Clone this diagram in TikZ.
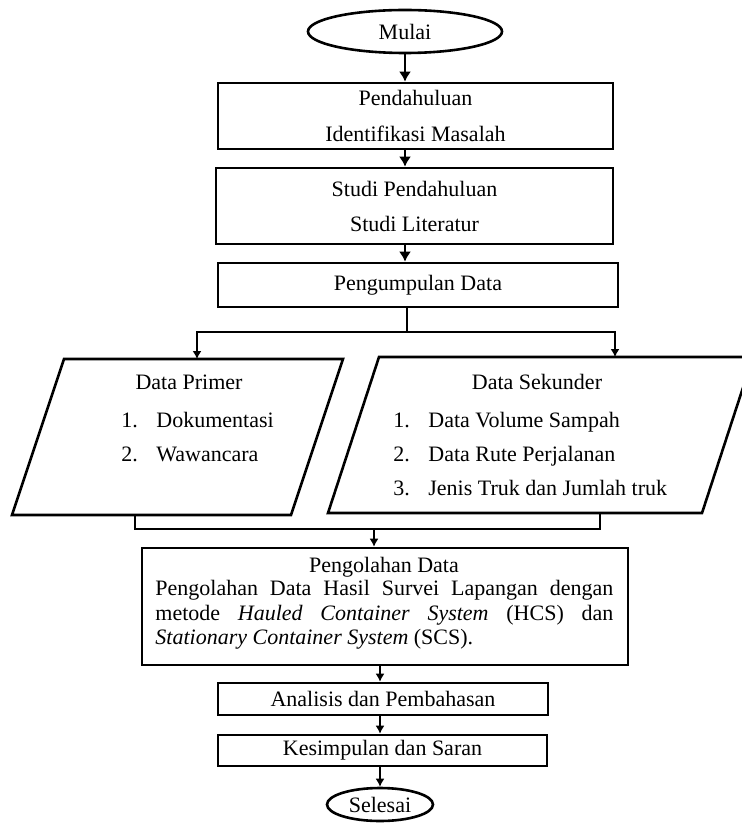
\documentclass[tikz,border=0pt]{standalone}
\usepackage{fontspec}
\setmainfont{Liberation Serif}
\usetikzlibrary{shapes.geometric,arrows.meta}
\newcommand{\butir}[2]{\makebox[17.5pt][l]{#1}#2}
\tikzset{
  proses/.style={draw, line width=1.3pt, inner sep=0pt},
  terminal/.style={draw, ellipse, line width=1.3pt, inner sep=0pt},
  teks/.style={inner sep=0pt, anchor=base},
  teksbaris/.style={inner sep=0pt, anchor=base west},
  panah/.style={-{Latex[length=5pt,width=6pt]}, line width=1pt},
  panahtipis/.style={-{Latex[length=4pt,width=4.5pt]}, line width=0.7pt},
  garis/.style={line width=0.6pt},
}
\begin{document}
\begin{tikzpicture}[x=0.5pt,y=-0.5pt,font=\fontsize{11}{13}\selectfont]
\useasboundingbox (0,0) rectangle (742,823);
% awal dan tahap pendahuluan
\node [terminal, minimum width=97pt, minimum height=21.5pt] (mulai) at (405,31.5) {Mulai};
\node [proses, minimum width=197.5pt, minimum height=33pt, align=center, font=\fontsize{11}{18}\selectfont] (pendahuluan) at (415.5,116) {Pendahuluan\\Identifikasi Masalah};
\node [proses, minimum width=198.5pt, minimum height=38pt, align=center, font=\fontsize{11}{17.5}\selectfont] (studi) at (414.5,206) {Studi Pendahuluan\\Studi Literatur};
\node [proses, minimum width=200pt, minimum height=22pt] (kumpul) at (418,285) {Pengumpulan Data};
\draw [panah] (mulai.south) -- (mulai.south |- pendahuluan.north);
\draw [panah] (pendahuluan.south -| mulai.south) -- (studi.north -| mulai.south);
\draw [panah] (studi.south -| mulai.south) -- (kumpul.north -| mulai.south);
% data primer dan sekunder
\coordinate (cabang) at (407,332);
\coordinate (atasprimer) at (197,359);
\coordinate (atassekunder) at (615,357);
\draw [line width=1.3pt] (12,515) -- (64,359) -- (343,359) -- (291,515) -- cycle;
\draw [line width=1.3pt] (328,513) -- (379,357) -- (753,357) -- (702,513) -- cycle;
\draw [garis] (kumpul.south -| cabang) -- (cabang);
\draw [garis, panahtipis] (cabang) -| (atasprimer);
\draw [garis, panahtipis] (cabang) -| (atassekunder);
\node [teks] (primer) at (189,389) {Data Primer};
\node [teksbaris] (primer1) at (121,427) {\butir{1.}{Dokumentasi}};
\node [teksbaris] (primer2) at (121,461) {\butir{2.}{Wawancara}};
\node [teks] (sekunder) at (537,389) {Data Sekunder};
\node [teksbaris] (sekunder1) at (393,427) {\butir{1.}{Data Volume Sampah}};
\node [teksbaris] (sekunder2) at (393,461) {\butir{2.}{Data Rute Perjalanan}};
\node [teksbaris] (sekunder3) at (393,495) {\butir{3.}{Jenis Truk dan Jumlah truk}};
% pengolahan data
\coordinate (bawahprimer) at (135,515);
\coordinate (bawahsekunder) at (600,513);
\coordinate (gabung) at (374,529);
\node [proses, minimum width=243pt, minimum height=58.5pt] (olah) at (385,606.5) {};
\node [teks] (olahjudul) at (384,572) {Pengolahan Data};
\node [inner sep=0pt, anchor=north west, text width=229pt, align=justify, font=\fontsize{11}{12.25}\selectfont] (olahisi) at (155,580) {Pengolahan Data Hasil Survei Lapangan dengan\linebreak metode \textit{Hauled Container System} (HCS) dan\linebreak \textit{Stationary Container System} (SCS).};
\draw [garis] (bawahprimer) |- (gabung) -| (bawahsekunder);
\draw [garis, panahtipis] (gabung) -- (olah.north -| gabung);
% analisis sampai selesai
\node [proses, minimum width=165pt, minimum height=16pt] (analisis) at (383,699) {Analisis dan Pembahasan};
\node [proses, minimum width=164.5pt, minimum height=15.5pt] (simpulan) at (382.5,750.5) {Kesimpulan dan Saran};
\node [terminal, minimum width=53pt, minimum height=16.5pt] (selesai) at (380,804.5) {Selesai};
\draw [panahtipis] (olah.south -| selesai) -- (analisis.north -| selesai);
\draw [panahtipis] (analisis.south -| selesai) -- (simpulan.north -| selesai);
\draw [panahtipis] (simpulan.south -| selesai) -- (selesai.north);
\end{tikzpicture}
\end{document}
